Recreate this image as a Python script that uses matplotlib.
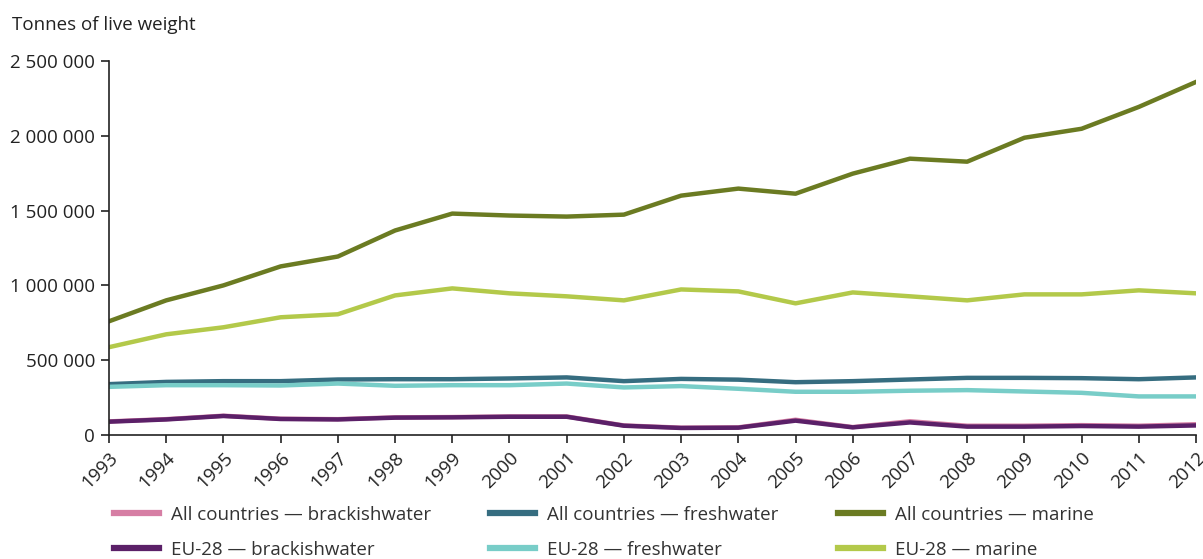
import numpy as np
import matplotlib
matplotlib.use("Agg")
from matplotlib import pyplot as plt
from matplotlib.ticker import FuncFormatter

plt.rcParams['font.family'] = ['Open Sans', 'DejaVu Sans']

years = list(range(1993, 2013))

all_brackish = [91000, 106000, 129000, 109000, 106000, 118000, 120000, 124000, 124000, 64000,
                49000, 51000, 102000, 53000, 92000, 62000, 62000, 66000, 62000, 72000]
eu_brackish = [89000, 104000, 127000, 107000, 104000, 116000, 118000, 122000, 122000, 62000,
               47000, 49000, 96000, 51000, 84000, 56000, 56000, 60000, 56000, 64000]
all_fresh = [340000, 355000, 360000, 360000, 371000, 373000, 373000, 378000, 385000, 360000,
             375000, 370000, 353000, 360000, 371000, 382000, 382000, 380000, 373000, 385000]
eu_fresh = [322000, 333000, 333000, 331000, 344000, 329000, 333000, 333000, 344000, 318000,
            327000, 309000, 289000, 289000, 296000, 300000, 291000, 282000, 258000, 258000]
all_marine = [760000, 900000, 1000000, 1127000, 1193000, 1367000, 1480000, 1467000, 1460000, 1473000,
              1600000, 1647000, 1613000, 1747000, 1847000, 1827000, 1987000, 2047000, 2193000, 2360000]
eu_marine = [587000, 673000, 720000, 787000, 807000, 933000, 980000, 947000, 927000, 900000,
             973000, 960000, 880000, 953000, 927000, 900000, 940000, 940000, 967000, 947000]

series = [
    ('All countries \u2014 brackishwater', all_brackish, '#d67ea4'),
    ('EU-28 \u2014 brackishwater', eu_brackish, '#5b2068'),
    ('All countries \u2014 freshwater', all_fresh, '#366d80'),
    ('EU-28 \u2014 freshwater', eu_fresh, '#78cdc8'),
    ('All countries \u2014 marine', all_marine, '#6b7b22'),
    ('EU-28 \u2014 marine', eu_marine, '#b3c94a'),
]

fs = 13.5

fig = plt.figure(figsize=(12.03, 5.59), dpi=100)
ax = fig.add_axes([0.0906, 0.2218, 0.9036, 0.6691])

handles = []
for label, vals, color in series:
    h, = ax.plot(years, vals, color=color, linewidth=3.2, label=label, solid_joinstyle='round')
    handles.append(h)

ax.set_xlim(1993, 2012)
ax.set_ylim(0, 2500000)
ax.set_xticks(years)
ax.set_xticklabels([str(y) for y in years], rotation=45, ha='right', rotation_mode='anchor')
ax.set_yticks(np.arange(0, 2500001, 500000))
ax.yaxis.set_major_formatter(FuncFormatter(lambda v, p: f'{int(v):,}'.replace(',', ' ')))

for s in ['top', 'right']:
    ax.spines[s].set_visible(False)
for s in ['left', 'bottom']:
    ax.spines[s].set_color('#222222')
    ax.spines[s].set_linewidth(1.2)
ax.tick_params(axis='both', colors='#222222', labelsize=fs, length=6, width=1.2)
ax.tick_params(axis='y', pad=4)
ax.tick_params(axis='x', pad=4)

fig.text(0.01, 0.955, 'Tonnes of live weight', fontsize=fs, color='#222222', va='center')

leg = fig.legend(handles=handles, loc='upper left', bbox_to_anchor=(0.087, 0.112), ncol=3,
                 frameon=False, fontsize=fs, handlelength=2.4, handletextpad=0.64,
                 columnspacing=3.15, labelspacing=0.9, borderpad=0.0)
for line in leg.get_lines():
    line.set_linewidth(4.5)
for t in leg.get_texts():
    t.set_color('#333333')

fig.savefig('out.png', dpi=100)
